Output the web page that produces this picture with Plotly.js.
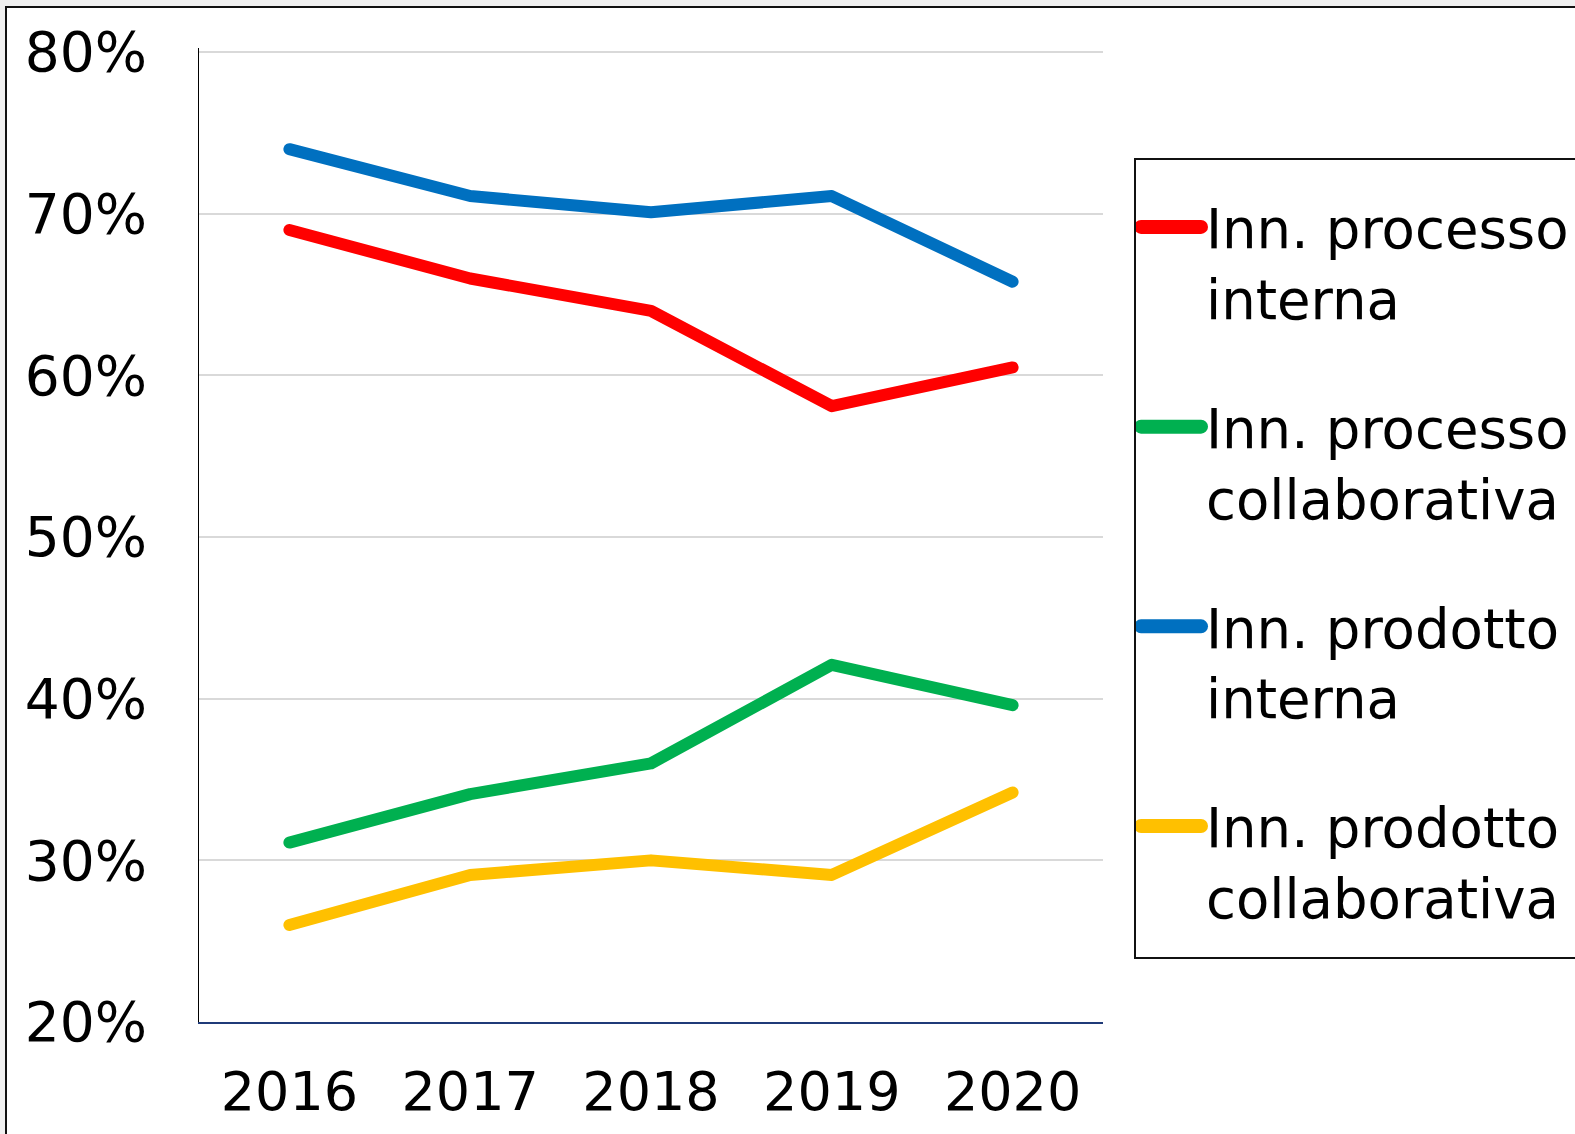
<!DOCTYPE html>
<html>
<head>
<meta charset="utf-8">
<script src="https://cdn.plot.ly/plotly-3.0.1.min.js"></script>
<style>
  html, body { margin:0; padding:0; background:#f0f0f0; overflow:hidden; width:1575px; height:1134px; }
  #frame { position:absolute; left:5px; top:6px; width:1620px; height:1200px; border:2px solid #111; background:#fff; box-sizing:border-box; }
  #plot { position:absolute; left:0; top:0; width:1700px; height:1134px; }
  #plot .scatterlayer .js-line { stroke-linecap: round; stroke-linejoin: round; }
  #plot .legend .js-line { stroke-width: 14px !important; stroke-linecap: round; }
</style>
</head>
<body>
<div id="frame"></div>
<div id="plot"></div>
<script>
const years = ['2016', '2017', '2018', '2019', '2020'];
const seriesNames = [
  'Inn. processo<br>interna',
  'Inn. processo<br>collaborativa',
  'Inn. prodotto<br>interna',
  'Inn. prodotto<br>collaborativa'
];
const processoInterna = [69.0, 66.0, 64.0, 58.1, 60.5];
const processoCollab = [31.1, 34.1, 36.0, 42.1, 39.6];
const prodottoInterna = [74.0, 71.1, 70.1, 71.1, 65.8];
const prodottoCollab = [26.0, 29.1, 30.0, 29.1, 34.2];
const yTicks = [20, 30, 40, 50, 60, 70, 80];
const yTickLabels = ['20%', '30%', '40%', '50%', '60%', '70%', '80%'];

const colors = ['#FF0000', '#00B050', '#0070C0', '#FFC000'];
const values = [processoInterna, processoCollab, prodottoInterna, prodottoCollab];

const traces = values.map((v, i) => ({
  type: 'scatter',
  mode: 'lines',
  x: years,
  y: v,
  name: seriesNames[i],
  legendgroup: 'g' + i,
  line: { color: colors[i], width: 12 },
  hoverinfo: 'x+y'
}));

// plot area geometry (px); figure is wider than the window so the legend fits in the right margin
const FW = 1700, FH = 1134;
const L = 199, T = 48, B = 112;
const R = FW - 1103;
const W = FW - L - R, H = FH - T - B;
const px2x = p => (p - L) / W;
const px2y = p => (FH - B - p) / H;

const font = 'DejaVu Sans, Verdana, sans-serif';
const layout = {
  width: FW,
  height: FH,
  margin: { l: L, r: R, t: T, b: B },
  paper_bgcolor: 'rgba(0,0,0,0)',
  plot_bgcolor: '#ffffff',
  font: { family: font, size: 54, color: '#000' },
  showlegend: true,
  legend: {
    x: px2x(1136),
    xanchor: 'left',
    y: px2y(185),
    yanchor: 'top',
    borderwidth: 0,
    bgcolor: 'rgba(0,0,0,0)',
    font: { family: font, size: 54.5, color: '#000' },
    tracegroupgap: 55,
    itemwidth: 60,
    valign: 'top'
  },
  shapes: [{
    type: 'rect', xref: 'paper', yref: 'paper', layer: 'below',
    x0: px2x(1135), x1: px2x(1690),
    y0: px2y(958), y1: px2y(159),
    line: { color: '#111', width: 2 }, fillcolor: '#ffffff'
  }],
  xaxis: {
    type: 'category',
    range: [-0.5, 4.5],
    showline: true,
    linecolor: '#1f3a78',
    linewidth: 2,
    showgrid: false,
    ticks: '',
    tickfont: { family: font, size: 54, color: '#000' },
    ticklabelstandoff: 21,
    fixedrange: true
  },
  yaxis: {
    range: [20, 80.26],
    tickvals: yTicks,
    ticktext: yTickLabels,
    showline: true,
    linecolor: '#000',
    linewidth: 1,
    showgrid: true,
    gridcolor: '#d9d9d9',
    gridwidth: 2,
    zeroline: false,
    ticks: '',
    tickfont: { family: font, size: 55, color: '#000' },
    ticklabelstandoff: 40,
    fixedrange: true
  }
};

Plotly.newPlot('plot', traces, layout, { displayModeBar: false, staticPlot: true });
</script>
</body>
</html>
